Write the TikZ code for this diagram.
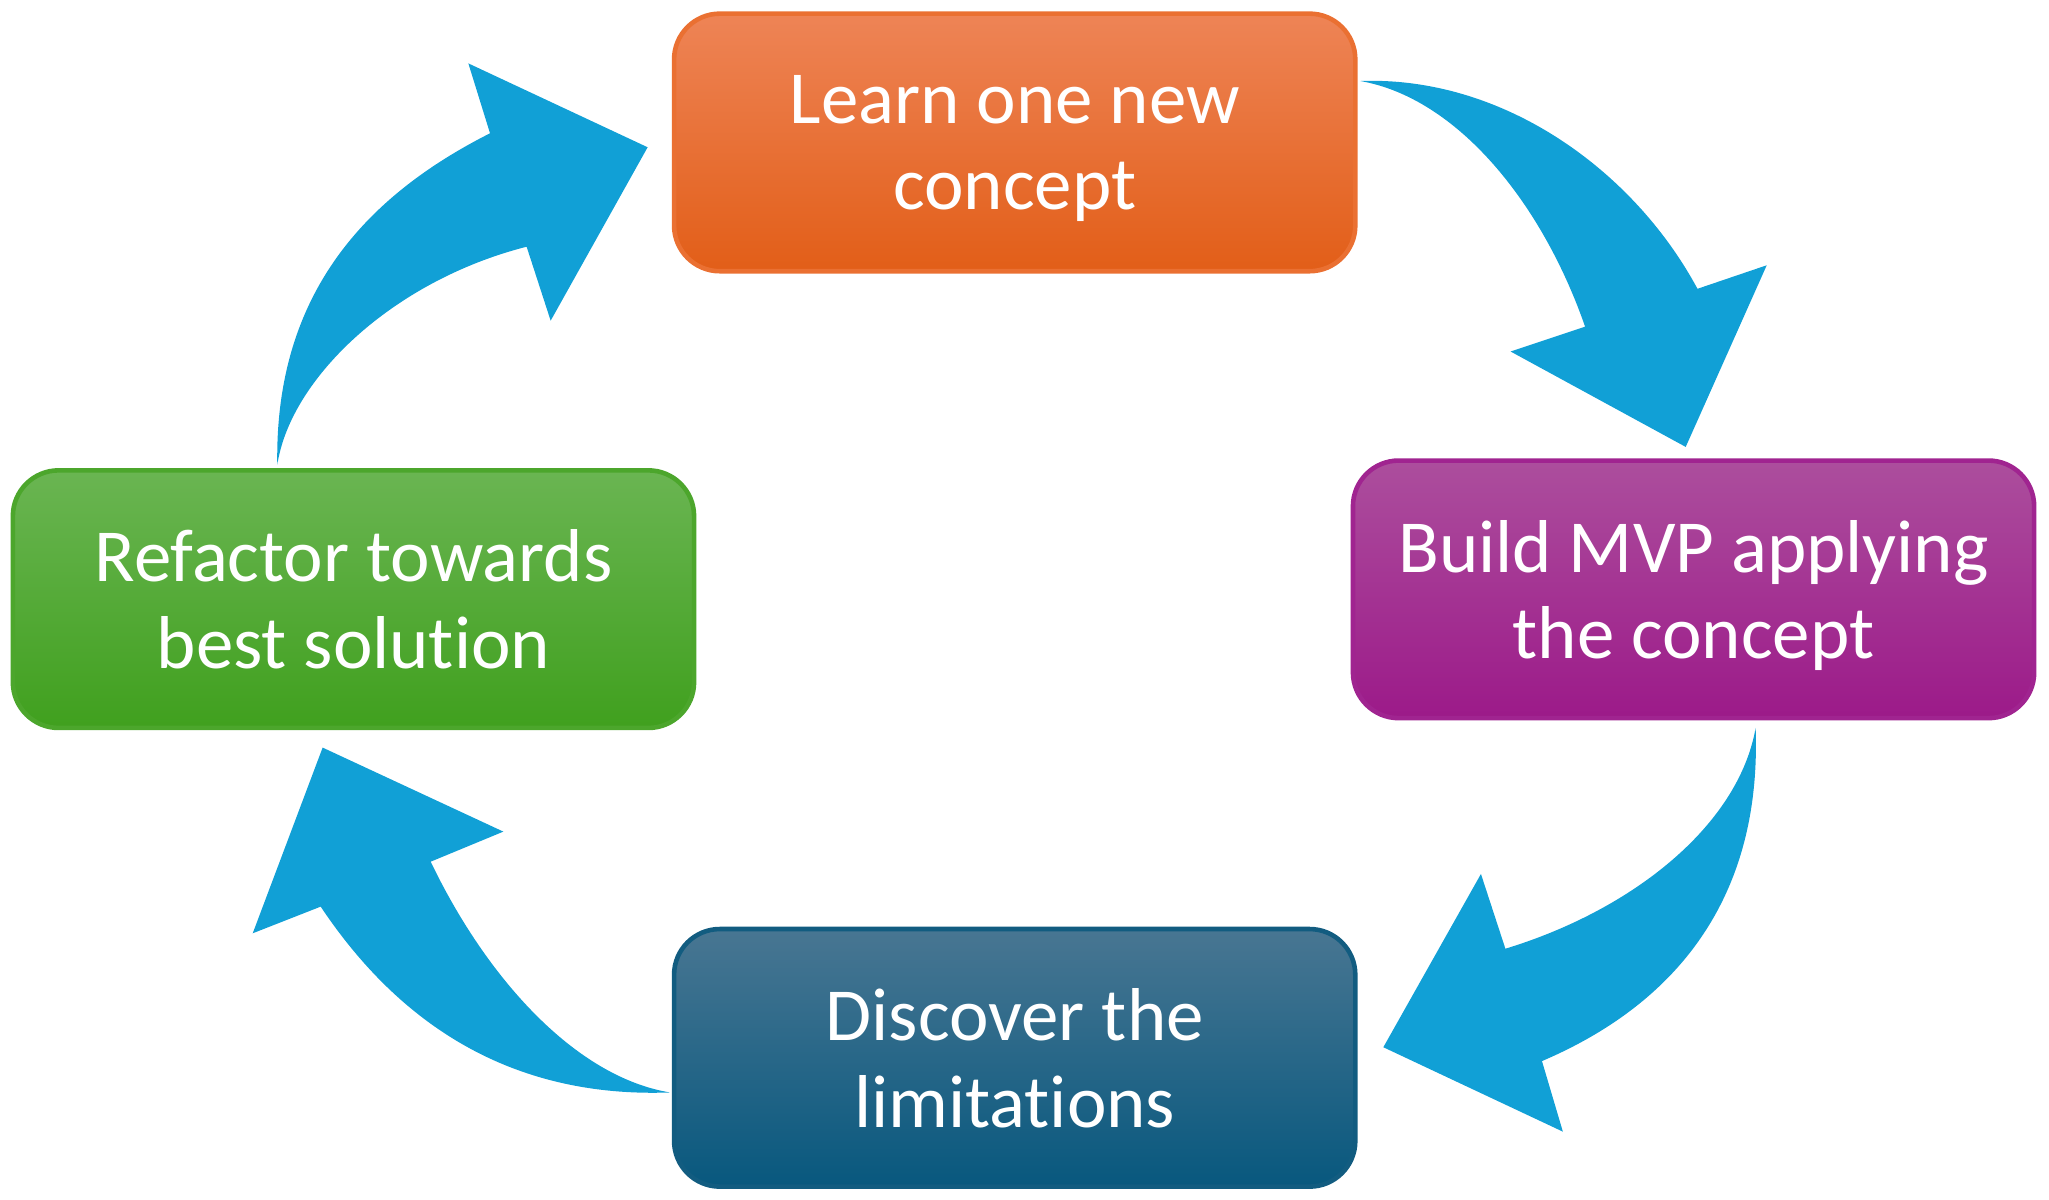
\documentclass[tikz,border=0pt]{standalone}
\usepackage{fontspec}
\setmainfont{Carlito}[Ligatures={NoCommon,NoRare}]
\usepackage{tikz}
\usetikzlibrary{positioning}

\definecolor{cyclearrow}{RGB}{17,160,214}
\definecolor{learntop}{RGB}{238,132,86}
\definecolor{learnbot}{RGB}{226,94,24}
\definecolor{learnline}{RGB}{234,112,50}
\definecolor{buildtop}{RGB}{172,78,157}
\definecolor{buildbot}{RGB}{156,26,137}
\definecolor{buildline}{RGB}{160,36,144}
\definecolor{discovertop}{RGB}{72,118,146}
\definecolor{discoverbot}{RGB}{8,88,126}
\definecolor{discoverline}{RGB}{18,92,128}
\definecolor{refactortop}{RGB}{106,181,82}
\definecolor{refactorbot}{RGB}{64,160,30}
\definecolor{refactorline}{RGB}{76,166,44}

\tikzset{stagebox/.style={rounded corners=0.35cm, line width=1pt, minimum width=5.21cm,
    minimum height=1.97cm, inner sep=0pt, align=center, text=white, text depth=0pt,
    font=\fontsize{16.3}{18.8}\selectfont}}

\begin{document}
\begin{tikzpicture}[x=0.01cm,y=-0.01cm]
\useasboundingbox (0,0) rectangle (1568,918);
% the four stages
\node[stagebox, draw=learnline, top color=learntop, bottom color=learnbot] (learn) at (776.5,109) {Learn one new\\concept};
\node[stagebox, draw=buildline, top color=buildtop, bottom color=buildbot] (build) at (1296,451) {Build MVP applying\\the concept};
\node[stagebox, draw=discoverline, top color=discovertop, bottom color=discoverbot] (discover) at (776.5,809.5) {Discover the\\limitations};
\node[stagebox, draw=refactorline, top color=refactortop, bottom color=refactorbot] (refactor) at (270.5,458.5) {Refactor towards\\best solution};
% curved arrows between the stages
\fill[cyclearrow] (1041,62) .. controls (1150,58) and (1250,130) .. (1299,221) -- (1352,203) -- (1290,342) -- (1156,269) -- (1213,250) .. controls (1180,155) and (1115,75) .. (1041,62) -- cycle;
\fill[cyclearrow] (1343.5,557) .. controls (1348,680) and (1290,765) .. (1180,812) -- (1196,866) -- (1058.6,801.4) -- (1133.3,668.8) -- (1152,726) .. controls (1250.5,696) and (1330.5,631) .. (1343.5,557) -- cycle;
\fill[cyclearrow] (512.7,836) .. controls (389.7,840.5) and (304.7,782.5) .. (245.4,693.8) -- (193.4,714.2) -- (246.9,572.1) -- (385.2,636.4) -- (329.6,659.4) .. controls (372,748) and (440,824) .. (512.7,836) -- cycle;
\fill[cyclearrow] (212.2,355.8) .. controls (210,225) and (280,150) .. (375,102) -- (358.4,48.5) -- (495.6,112.7) -- (421.4,245.4) -- (403,188.8) .. controls (300.2,215) and (222,290) .. (212.2,355.8) -- cycle;
\end{tikzpicture}
\end{document}
